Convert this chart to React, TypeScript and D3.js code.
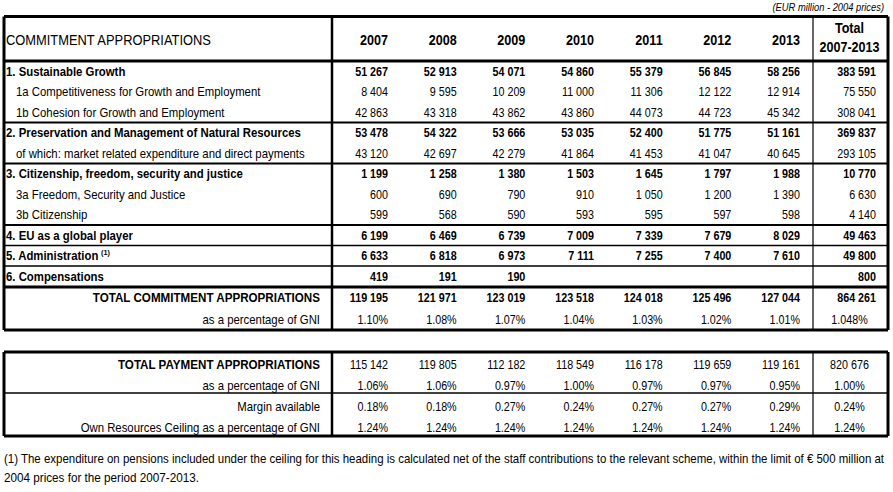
import React from "react";
import * as d3 from "d3";

const years = ["2007", "2008", "2009", "2010", "2011", "2012", "2013"];
const unitNote = "(EUR million - 2004 prices)";
const headerTitle = "COMMITMENT APPROPRIATIONS";
const totalHeader = ["Total", "2007-2013"];

const commitmentLabels = [
  "1. Sustainable Growth",
  "1a Competitiveness for Growth and Employment",
  "1b Cohesion for Growth and Employment",
  "2. Preservation and Management of Natural Resources",
  "of which: market related expenditure and direct payments",
  "3. Citizenship, freedom, security and justice",
  "3a Freedom, Security and Justice",
  "3b Citizenship",
  "4. EU as a global player",
  "5. Administration",
  "6. Compensations",
];
const commitmentBold = [true, false, false, true, false, true, false, false, true, true, true];
const commitmentValues: (number | null)[][] = [
  [51267, 52913, 54071, 54860, 55379, 56845, 58256],
  [8404, 9595, 10209, 11000, 11306, 12122, 12914],
  [42863, 43318, 43862, 43860, 44073, 44723, 45342],
  [53478, 54322, 53666, 53035, 52400, 51775, 51161],
  [43120, 42697, 42279, 41864, 41453, 41047, 40645],
  [1199, 1258, 1380, 1503, 1645, 1797, 1988],
  [600, 690, 790, 910, 1050, 1200, 1390],
  [599, 568, 590, 593, 595, 597, 598],
  [6199, 6469, 6739, 7009, 7339, 7679, 8029],
  [6633, 6818, 6973, 7111, 7255, 7400, 7610],
  [419, 191, 190, null, null, null, null],
];
const commitmentTotals = [383591, 75550, 308041, 369837, 293105, 10770, 6630, 4140, 49463, 49800, 800];

const totalCommitment = [119195, 121971, 123019, 123518, 124018, 125496, 127044];
const totalCommitmentSum = 864261;
const commitmentGni = [1.10, 1.08, 1.07, 1.04, 1.03, 1.02, 1.01];
const commitmentGniTotal = "1.048%";

const totalPayment = [115142, 119805, 112182, 118549, 116178, 119659, 119161];
const totalPaymentSum = 820676;
const paymentGni = [1.06, 1.06, 0.97, 1.00, 0.97, 0.97, 0.95];
const paymentGniTotal = 1.00;
const marginAvailable = [0.18, 0.18, 0.27, 0.24, 0.27, 0.27, 0.29];
const marginTotal = 0.24;
const ownResources = [1.24, 1.24, 1.24, 1.24, 1.24, 1.24, 1.24];
const ownResourcesTotal = 1.24;

const footnote1 = "(1) The expenditure on pensions included under the ceiling for this heading is calculated net of the staff contributions to the relevant scheme, within the limit of \u20AC 500 million at";
const footnote2 = "2004 prices for the period 2007-2013.";

const W = 893;
const H = 492;
const FONT = "'Liberation Sans', Arial, sans-serif";

const fmtNum = (v: number | null) => (v == null ? "" : d3.format(",")(v).replace(/,/g, " "));
const fmtPct = (v: number) => v.toFixed(2) + "%";

export default function App() {
  const xL = 4, xLab = 332, xTot = 813, xR = 888;
  const colX = d3.scalePoint<string>().domain(years).range([388, 800]);
  const totRight = 876;
  const totCenter = (xTot + xR) / 2 - 1;

  const rowsT1 = d3.scaleBand<number>().domain(d3.range(commitmentLabels.length)).range([61, 286.5]);
  const rowsT1b = d3.scaleBand<number>().domain([0, 1]).range([287, 330]);
  const rowsT2 = d3.scaleBand<number>().domain([0, 1, 2, 3]).range([352, 436]);

  const t1Top = 16.5, t1Head = 61, t1Bot = 330;
  const t2Top = 352, t2Bot = 436;

  const NUM_SX = 0.86;
  const LAB_SX = 0.91;
  const CAP_SX = 0.93;

  const texts: React.ReactNode[] = [];
  const txt = (key: string, x: number, y: number, s: string, opts: any = {}) =>
    texts.push(
      <text key={key} transform={`translate(${x},${y}) scale(${opts.sx ?? NUM_SX},1)`} dy="0.35em"
        textAnchor={opts.anchor || "start"}
        fontWeight={opts.bold ? "bold" : "normal"} fontSize={opts.size || 12.5}
        fontStyle={opts.italic ? "italic" : "normal"}
        fill="#000">{s}{opts.sup ? <tspan fontSize={8} dy="-0.6em" dx="3">{opts.sup}</tspan> : null}</text>
    );

  txt("unit", 884, 7, unitNote, { anchor: "end", italic: true, size: 11, sx: 0.85 });
  txt("title", 6, 40, headerTitle, { size: 15, sx: 0.86 });
  years.forEach((yr) => txt("yr" + yr, colX(yr)!, 40, yr, { anchor: "end", bold: true, size: 14, sx: 0.9 }));
  txt("th1", totCenter, 28, totalHeader[0], { anchor: "middle", bold: true, size: 14, sx: 0.9 });
  txt("th2", totCenter, 47, totalHeader[1], { anchor: "middle", bold: true, size: 14, sx: 0.9 });

  commitmentLabels.forEach((lab, i) => {
    const y = rowsT1(i)! + rowsT1.bandwidth() / 2;
    const bold = commitmentBold[i];
    txt("l" + i, bold ? 6 : 16, y, lab, { bold, sx: LAB_SX, sup: i === 9 ? "(1)" : undefined });
    commitmentValues[i].forEach((v, j) => txt(`v${i}-${j}`, colX(years[j])!, y, fmtNum(v), { anchor: "end", bold }));
    txt("t" + i, totRight, y, fmtNum(commitmentTotals[i]), { anchor: "end", bold });
  });

  const yTC = rowsT1b(0)! + rowsT1b.bandwidth() / 2;
  const yTG = rowsT1b(1)! + rowsT1b.bandwidth() / 2;
  txt("tcl", 320, yTC, "TOTAL COMMITMENT APPROPRIATIONS", { anchor: "end", bold: true, sx: CAP_SX });
  totalCommitment.forEach((v, j) => txt("tc" + j, colX(years[j])!, yTC, fmtNum(v), { anchor: "end", bold: true }));
  txt("tcs", totRight, yTC, fmtNum(totalCommitmentSum), { anchor: "end", bold: true });
  txt("tgl", 320, yTG, "as a percentage of GNI", { anchor: "end", sx: LAB_SX });
  commitmentGni.forEach((v, j) => txt("tg" + j, colX(years[j])!, yTG, fmtPct(v), { anchor: "end" }));
  txt("tgs", totCenter, yTG, commitmentGniTotal, { anchor: "middle" });

  const t2Rows: [string, string, boolean, number[], string][] = [
    ["TOTAL PAYMENT APPROPRIATIONS", "num", true, totalPayment, fmtNum(totalPaymentSum)],
    ["as a percentage of GNI", "pct", false, paymentGni, fmtPct(paymentGniTotal)],
    ["Margin available", "pct", false, marginAvailable, fmtPct(marginTotal)],
    ["Own Resources Ceiling as a percentage of GNI", "pct", false, ownResources, fmtPct(ownResourcesTotal)],
  ];
  t2Rows.forEach(([lab, kind, bold, vals, tot], i) => {
    const y = rowsT2(i)! + rowsT2.bandwidth() / 2 + 2;
    txt("p" + i, 320, y, lab, { anchor: "end", bold, sx: bold ? CAP_SX : LAB_SX });
    vals.forEach((v, j) => txt(`pv${i}-${j}`, colX(years[j])!, y, kind === "num" ? fmtNum(v) : fmtPct(v), { anchor: "end" }));
    txt("pt" + i, totCenter, y, tot, { anchor: "middle" });
  });

  const ln = (key: string, x1: number, y1: number, x2: number, y2: number, w: number) => (
    <line key={key} x1={x1} y1={y1} x2={x2} y2={y2} stroke="#000" strokeWidth={w} />
  );

  const t1Lines = [
    ln("t1top", xL, t1Top, xR, t1Top, 3),
    ln("t1head", xL, t1Head, xR, t1Head, 3),
    ln("t1bot", xL, t1Bot, xR, t1Bot, 3),
    ln("t1l", xL, t1Top, xL, t1Bot, 3),
    ln("t1r", xR, t1Top, xR, t1Bot, 3),
    ln("t1c", xLab, t1Top, xLab, t1Bot, 2.5),
    ln("t1t", xTot, t1Top, xTot, t1Bot, 1.2),
    ln("h1", xL, rowsT1(3)!, xR, rowsT1(3)!, 2),
    ln("h2", xL, rowsT1(5)!, xR, rowsT1(5)!, 2),
    ln("h3", xL, rowsT1(8)!, xR, rowsT1(8)!, 2),
    ln("h4", xL, rowsT1(9)!, xR, rowsT1(9)!, 1.3),
    ln("h5", xL, rowsT1(10)!, xR, rowsT1(10)!, 1.3),
    ln("h6", xL, rowsT1b(0)!, xR, rowsT1b(0)!, 3),
  ];
  const t2Lines = [
    ln("t2top", xL, t2Top, xR, t2Top, 3),
    ln("t2bot", xL, t2Bot, xR, t2Bot, 3),
    ln("t2l", xL, t2Top, xL, t2Bot, 3),
    ln("t2r", xR, t2Top, xR, t2Bot, 3),
    ln("t2c", xLab, t2Top, xLab, t2Bot, 2.5),
    ln("t2t", xTot, t2Top, xTot, t2Bot, 1.2),
    ln("t2m", xL, rowsT2(2)! - 1, xR, rowsT2(2)! - 1, 1.3),
  ];

  const FN1_SX = 0.83;
  const FN_SX = 0.9;
  return (
    <svg width={W} height={H} style={{ position: "absolute", left: 0, top: 0, background: "#fff" }}
      fontFamily={FONT}>
      <rect width={W} height={H} fill="#fff" />
      {t1Lines}
      {t2Lines}
      {texts}
      <text transform={`translate(4,458) scale(${FN1_SX},1)`} dy="0.35em" fontSize={13}
        textLength={880 / FN1_SX} lengthAdjust="spacingAndGlyphs">{footnote1}</text>
      <text transform={`translate(4,477) scale(${FN_SX},1)`} dy="0.35em" fontSize={13}>{footnote2}</text>
    </svg>
  );
}
